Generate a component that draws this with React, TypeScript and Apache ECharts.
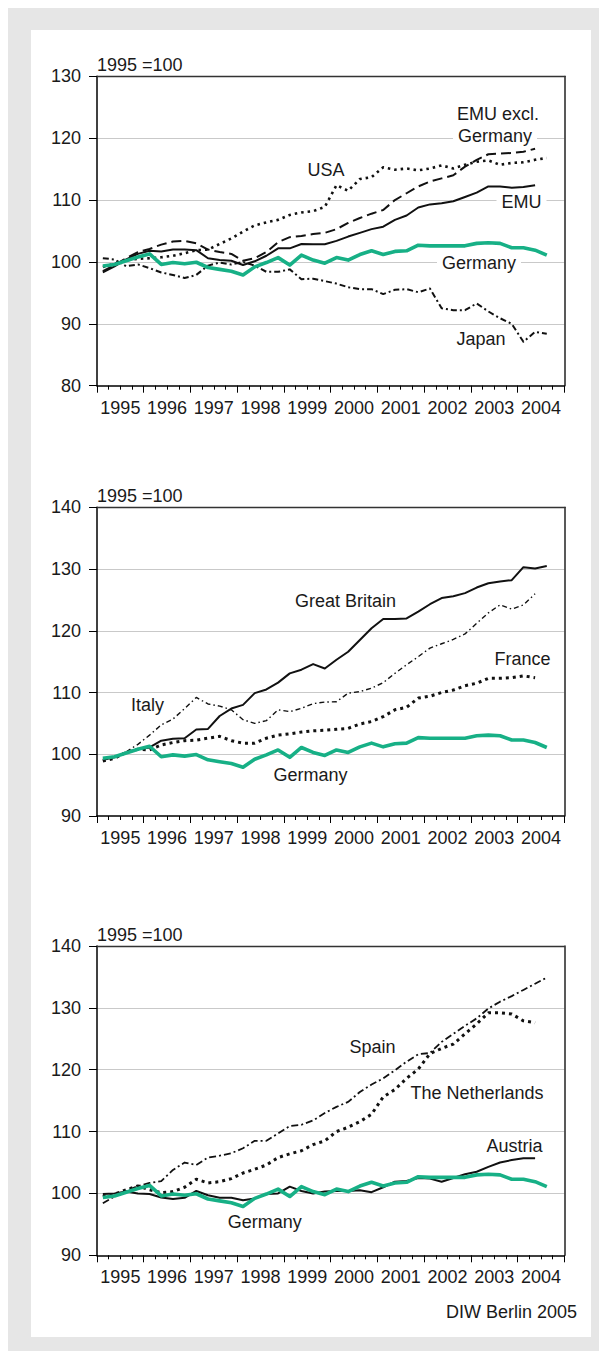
import React, { useEffect, useRef } from "react";
import * as echarts from "echarts";

// Quarterly data, 1995Q1 ... 2004Q4 (index 1995 = 100)
const years = ["1995", "1996", "1997", "1998", "1999", "2000", "2001", "2002", "2003", "2004"];

const germany = [99.35, 99.6, 100.2, 100.8, 101.3, 99.6, 99.9, 99.7, 99.95, 99.1, 98.8, 98.5, 97.9, 99.2, 99.9, 100.7, 99.5, 101.1, 100.3, 99.8, 100.7, 100.3, 101.2, 101.8, 101.2, 101.7, 101.8, 102.7, 102.6, 102.6, 102.6, 102.6, 103.0, 103.1, 103.0, 102.3, 102.3, 101.9, 101.1];
const emu = [98.3, 99.3, 100.4, 101.3, 101.8, 101.7, 102.0, 102.0, 101.9, 100.6, 100.3, 100.2, 99.5, 100.1, 101.0, 102.2, 102.2, 102.9, 102.85, 102.85, 103.4, 104.1, 104.7, 105.3, 105.7, 106.8, 107.5, 108.8, 109.3, 109.5, 109.8, 110.5, 111.2, 112.2, 112.2, 112.0, 112.1, 112.4];
const emuExGermany = [98.5, 99.5, 100.6, 101.6, 102.1, 102.8, 103.3, 103.4, 103.0, 102.0, 101.6, 101.3, 100.2, 100.6, 101.6, 103.2, 104.0, 104.2, 104.5, 104.7, 105.3, 106.3, 107.1, 107.8, 108.4, 110.0, 111.1, 112.2, 113.0, 113.5, 114.0, 115.4, 116.5, 117.4, 117.5, 117.6, 117.8, 118.3];
const usa = [99.2, 99.7, 100.3, 100.5, 100.6, 100.75, 101.0, 101.4, 101.9, 102.0, 102.9, 103.8, 104.9, 105.9, 106.4, 106.8, 107.6, 108.0, 108.2, 108.9, 112.4, 111.5, 113.4, 113.7, 115.3, 114.9, 115.1, 114.8, 115.1, 115.6, 115.1, 115.7, 116.2, 116.4, 115.7, 116.0, 116.1, 116.5, 116.8];
const japan = [100.6, 100.4, 99.3, 99.6, 99.0, 98.3, 97.9, 97.4, 97.9, 99.4, 99.9, 99.6, 100.0, 99.4, 98.4, 98.4, 98.8, 97.2, 97.3, 96.9, 96.5, 95.9, 95.6, 95.6, 94.8, 95.5, 95.6, 95.1, 95.7, 92.5, 92.2, 92.2, 93.3, 92.0, 90.9, 90.0, 87.1, 88.7, 88.4];
const greatBritain = [99.1, 99.5, 100.3, 100.8, 101.1, 102.2, 102.5, 102.6, 104.0, 104.1, 106.2, 107.4, 108.0, 109.9, 110.5, 111.6, 113.1, 113.7, 114.6, 113.9, 115.3, 116.6, 118.5, 120.4, 121.9, 121.9, 122.0, 123.1, 124.3, 125.3, 125.6, 126.1, 127.0, 127.7, 128.0, 128.2, 130.3, 130.1, 130.5];
const italy = [99.0, 99.5, 100.4, 101.6, 103.1, 104.75, 105.7, 107.4, 109.2, 108.15, 107.8, 107.2, 105.6, 105.0, 105.45, 107.2, 106.9, 107.45, 108.2, 108.45, 108.5, 109.9, 110.15, 110.7, 111.6, 113.1, 114.5, 115.8, 117.2, 117.9, 118.6, 119.5, 121.2, 122.9, 124.2, 123.5, 124.2, 126.0];
const france = [98.9, 99.35, 100.3, 100.8, 100.7, 101.5, 101.9, 102.2, 102.3, 102.6, 102.9, 102.2, 101.8, 101.8, 102.6, 103.1, 103.3, 103.6, 103.8, 103.9, 104.05, 104.2, 104.9, 105.3, 106.1, 107.2, 107.6, 109.1, 109.4, 110.0, 110.4, 111.1, 111.5, 112.3, 112.3, 112.4, 112.7, 112.4];
const spain = [98.4, 99.5, 100.4, 101.2, 101.7, 102.0, 103.8, 105.0, 104.6, 105.8, 106.1, 106.5, 107.3, 108.5, 108.5, 109.7, 110.9, 111.1, 111.8, 113.0, 114.0, 114.8, 116.4, 117.6, 118.6, 119.9, 121.3, 122.5, 122.7, 124.5, 125.8, 127.1, 128.3, 129.9, 131.0, 131.9, 132.9, 133.9, 134.9];
const netherlands = [99.5, 99.9, 100.6, 101.2, 100.6, 100.1, 100.3, 101.0, 102.3, 101.7, 101.9, 102.4, 103.3, 103.9, 104.6, 105.8, 106.4, 106.9, 107.9, 108.5, 110.0, 110.7, 111.6, 112.8, 115.6, 116.8, 118.6, 120.1, 122.6, 123.45, 124.15, 125.8, 127.4, 129.2, 129.2, 129.0, 127.9, 127.6];
const austria = [99.9, 100.0, 100.3, 100.0, 99.9, 99.35, 99.1, 99.3, 100.4, 99.7, 99.3, 99.3, 98.9, 99.2, 99.9, 100.0, 101.1, 100.4, 100.0, 100.3, 100.4, 100.4, 100.5, 100.2, 101.0, 101.9, 102.0, 102.5, 102.4, 101.9, 102.5, 103.1, 103.5, 104.3, 105.0, 105.4, 105.7, 105.7];

const yRanges = [
  [80, 130],
  [90, 140],
  [90, 140],
];

const FONT = '"Liberation Sans", Arial, Helvetica, sans-serif';
const TXT = "#1a1a1a";
const GREEN = "#17b086";

const grids = [
  { left: 97, top: 76.3, width: 467.3, height: 309.4 },
  { left: 97, top: 507.3, width: 467.3, height: 308.7 },
  { left: 97, top: 946, width: 467.3, height: 309.3 },
];

type SeriesDef = { name: string; values: number[]; panel: number; color: string; width: number; dash: any };

const seriesDefs: SeriesDef[] = [
  { name: "Japan", values: japan, panel: 0, color: "#111", width: 2, dash: [6, 3, 2, 3] },
  { name: "USA", values: usa, panel: 0, color: "#111", width: 2.6, dash: [2.5, 4] },
  { name: "EMU excl. Germany", values: emuExGermany, panel: 0, color: "#111", width: 2, dash: [10, 5] },
  { name: "EMU", values: emu, panel: 0, color: "#111", width: 2, dash: "solid" },
  { name: "Germany", values: germany, panel: 0, color: GREEN, width: 3.6, dash: "solid" },
  { name: "Italy", values: italy, panel: 1, color: "#111", width: 1.4, dash: [5, 3, 1.5, 3] },
  { name: "France", values: france, panel: 1, color: "#111", width: 3, dash: [3, 4] },
  { name: "Great Britain", values: greatBritain, panel: 1, color: "#111", width: 2, dash: "solid" },
  { name: "Germany", values: germany, panel: 1, color: GREEN, width: 3.6, dash: "solid" },
  { name: "Spain", values: spain, panel: 2, color: "#111", width: 1.8, dash: [7, 3, 2, 3] },
  { name: "The Netherlands", values: netherlands, panel: 2, color: "#111", width: 3, dash: [3, 4] },
  { name: "Austria", values: austria, panel: 2, color: "#111", width: 2, dash: "solid" },
  { name: "Germany", values: germany, panel: 2, color: GREEN, width: 3.6, dash: "solid" },
];

type Lbl = { text: string; x: number; y: number; bg?: boolean; align?: string };
const labels: Lbl[] = [
  { text: "EMU excl.", x: 498, y: 114 },
  { text: "Germany", x: 495, y: 135.5, bg: true },
  { text: "USA", x: 326, y: 170 },
  { text: "EMU", x: 521.5, y: 201.5, bg: true },
  { text: "Germany", x: 479, y: 263, bg: true },
  { text: "Japan", x: 481, y: 338.5 },
  { text: "Great Britain", x: 345.5, y: 600.5 },
  { text: "Italy", x: 147.5, y: 705 },
  { text: "France", x: 522.5, y: 659 },
  { text: "Germany", x: 310.5, y: 775 },
  { text: "Spain", x: 372.5, y: 1047 },
  { text: "The Netherlands", x: 477, y: 1092.5 },
  { text: "Austria", x: 514.5, y: 1145.5 },
  { text: "Germany", x: 264.7, y: 1222 },
];

function buildOption() {
  const xAxis: any[] = [];
  const yAxis: any[] = [];
  grids.forEach((_, g) => {
    // data axis with quarter ticks
    xAxis.push({
      type: "value",
      gridIndex: g,
      min: 0,
      max: 40,
      interval: 4,
      position: "bottom",
      axisLine: { show: true, onZero: false, lineStyle: { color: "#000", width: 1.5 } },
      axisTick: { show: true, length: 7, lineStyle: { color: "#000", width: 1 } },
      minorTick: { show: true, splitNumber: 4, length: 4, lineStyle: { color: "#000", width: 1 } },
      axisLabel: { show: false },
      splitLine: { show: false },
      minorSplitLine: { show: false },
    });
    // year label axis
    xAxis.push({
      type: "value",
      gridIndex: g,
      min: 0,
      max: 40,
      interval: 2,
      position: "bottom",
      axisLine: { show: false },
      axisTick: { show: false },
      splitLine: { show: false },
      axisLabel: {
        show: true,
        margin: 13,
        fontSize: 18,
        fontFamily: FONT,
        color: TXT,
        lineHeight: 18,
        formatter: (v: number) => {
          const q = Math.round(v);
          return q % 4 === 2 ? years[(q - 2) / 4] : "";
        },
      },
    });
    // top frame
    xAxis.push({
      type: "value",
      gridIndex: g,
      min: 0,
      max: 40,
      position: "top",
      axisLine: { show: true, onZero: false, lineStyle: { color: "#333", width: 1.3 } },
      axisTick: { show: false },
      axisLabel: { show: false },
      splitLine: { show: false },
    });
    const [mn, mx] = yRanges[g];
    yAxis.push({
      type: "value",
      gridIndex: g,
      min: mn,
      max: mx,
      interval: 10,
      position: "left",
      axisLine: { show: true, onZero: false, lineStyle: { color: "#000", width: 1.5 } },
      axisTick: { show: true, inside: false, length: 8, lineStyle: { color: "#000", width: 1 } },
      axisLabel: { margin: 16, fontSize: 18, fontFamily: FONT, color: TXT },
      splitLine: { show: true, showMinLine: false, showMaxLine: false, lineStyle: { color: "#c9c9c9", width: 1 } },
    });
    yAxis.push({
      type: "value",
      gridIndex: g,
      min: mn,
      max: mx,
      interval: 10,
      position: "right",
      axisLine: { show: true, onZero: false, lineStyle: { color: "#222", width: 1.5 } },
      axisTick: { show: false },
      axisLabel: { show: false },
      splitLine: { show: false },
    });
  });

  const series = seriesDefs.map((s) => ({
    type: "line",
    name: s.name,
    xAxisIndex: s.panel * 3,
    yAxisIndex: s.panel * 2,
    data: s.values.map((v, i) => [i + 0.5, v]),
    showSymbol: false,
    symbol: "none",
    silent: true,
    lineStyle: { color: s.color, width: s.width, type: s.dash, cap: "butt", join: "round" },
  }));

  const graphics: any[] = labels.map((l) => ({
    type: "text",
    x: l.x,
    y: l.y,
    z: 100,
    style: {
      text: l.text,
      font: `18px ${FONT}`,
      fill: TXT,
      align: "center",
      verticalAlign: "middle",
      backgroundColor: l.bg ? "#ffffff" : undefined,
      padding: l.bg ? [1, 5] : 0,
    },
  }));
  grids.forEach((gr) => {
    graphics.push({
      type: "text",
      x: gr.left,
      y: gr.top - 11.3,
      z: 100,
      style: { text: "1995 =100", font: `18px ${FONT}`, fill: TXT, align: "left", verticalAlign: "middle" },
    });
  });
  graphics.push({
    type: "text",
    x: 577,
    y: 1311.5,
    z: 100,
    style: { text: "DIW Berlin 2005", font: `18px ${FONT}`, fill: TXT, align: "right", verticalAlign: "middle" },
  });

  return {
    animation: false,
    backgroundColor: "transparent",
    grid: grids.map((g) => ({ ...g, containLabel: false })),
    xAxis,
    yAxis,
    series,
    graphic: graphics,
  };
}

export default function App() {
  const ref = useRef<HTMLDivElement>(null);
  useEffect(() => {
    if (!ref.current) return;
    const chart = echarts.init(ref.current, undefined, { renderer: "svg" });
    chart.setOption(buildOption() as any);
    return () => chart.dispose();
  }, []);
  return (
    <>
      <div style={{ position: "fixed", left: 8, top: 8, width: 591, height: 1343, background: "#e6e6e6" }}>
        <div style={{ position: "absolute", left: 23, top: 22, width: 560, height: 1307, background: "#ffffff" }} />
      </div>
      <div ref={ref} style={{ position: "fixed", left: 0, top: 0, width: 599, height: 1351 }} />
    </>
  );
}
